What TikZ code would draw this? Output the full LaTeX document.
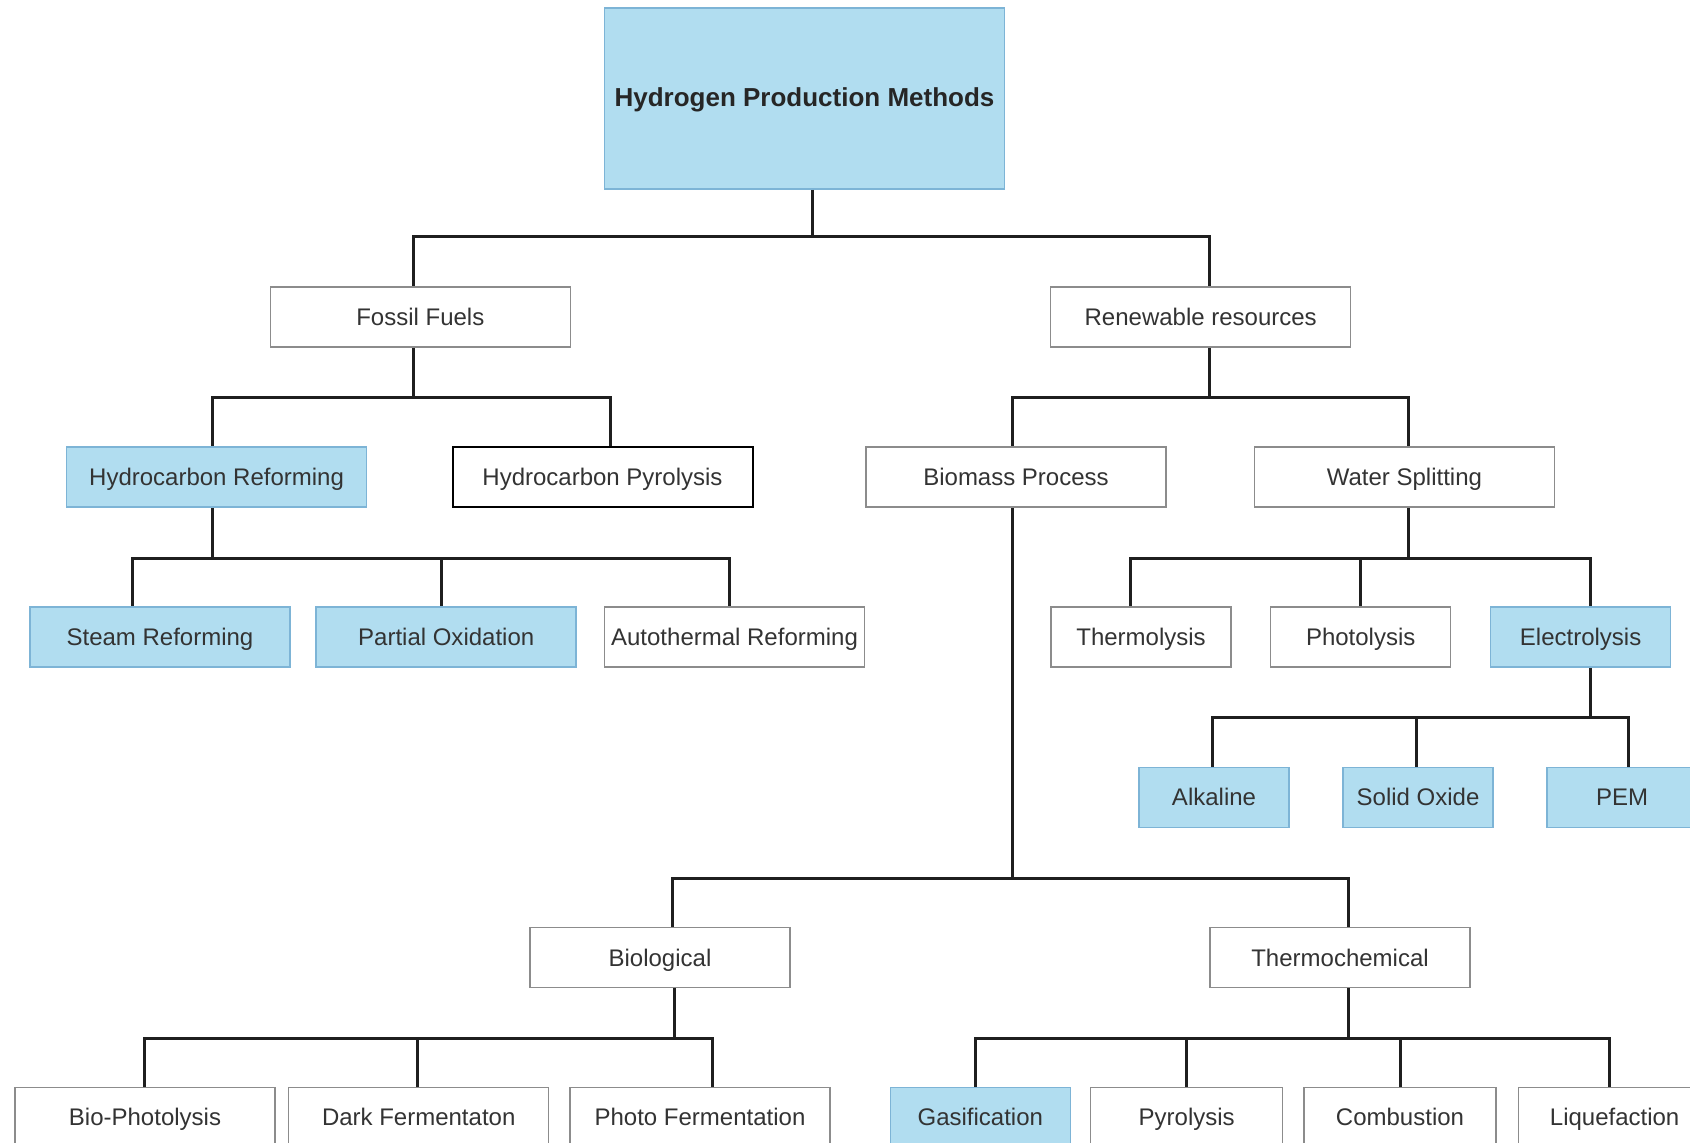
\documentclass[tikz,border=0pt]{standalone}
\usepackage{fontspec}
\setmainfont{Liberation Sans}
\usetikzlibrary{calc}
\definecolor{boxblue}{HTML}{B1DDF0}
\definecolor{blueedge}{HTML}{7DB4D6}
\definecolor{greyedge}{HTML}{8C8C8C}
\definecolor{txtgrey}{HTML}{333333}
\tikzset{
	box/.style={draw=greyedge, line width=0.75pt, fill=white, inner sep=0pt, text=txtgrey,
		font=\fontsize{12}{14}\selectfont, minimum height=30pt, text height=9.8pt, text depth=1.4pt},
	bluebox/.style={box, draw=blueedge, fill=boxblue},
	link/.style={line width=1.5pt, draw=black!88},
}

\begin{document}
\begin{tikzpicture}[x=0.5pt, y=-0.5pt]
		%%%%% START %%%%%
		\useasboundingbox (0, 0) rectangle (1690, 1142);
		\clip (0, 0) rectangle (1690, 1142);
		
		% top
		\node[bluebox, minimum width=200pt, minimum height=90.5pt, text=black!85,
			font=\fontsize{13}{15}\selectfont\bfseries] (root) at (804.5, 98.5) {Hydrogen Production Methods};
		
		\node[box, minimum width=150pt] (fossil) at (420.3, 317) {Fossil Fuels};
		\node[box, minimum width=150pt] (renew) at (1200.7, 317) {Renewable resources};
		
		\node[bluebox, minimum width=150pt] (hcref) at (216.6, 477) {Hydrocarbon Reforming};
		\node[box, draw=black, line width=1pt, minimum width=150pt] (hcpyr) at (602.5, 477) {Hydrocarbon Pyrolysis};
		\node[box, minimum width=150pt] (biomass) at (1016, 477) {Biomass Process};
		\node[box, minimum width=150pt] (water) at (1404.4, 477) {Water Splitting};
		
		\node[bluebox, minimum width=130pt] (steam) at (160, 637) {Steam Reforming};
		\node[bluebox, minimum width=130pt] (partox) at (446.2, 637) {Partial Oxidation};
		\node[box, minimum width=130pt] (autoth) at (734.5, 637) {Autothermal Reforming};
		\node[box, minimum width=90pt] (thermo) at (1141, 637) {Thermolysis};
		\node[box, minimum width=90pt] (photo) at (1360.7, 637) {Photolysis};
		\node[bluebox, minimum width=90pt] (electro) at (1580.6, 637) {Electrolysis};
		
		\node[bluebox, minimum width=75pt] (alkal) at (1214, 797.5) {Alkaline};
		\node[bluebox, minimum width=75pt] (solid) at (1418, 797.5) {Solid Oxide};
		\node[bluebox, minimum width=75pt] (pem) at (1622, 797.5) {PEM};
		
		\node[box, minimum width=130pt] (bio) at (660, 957.6) {Biological};
		\node[box, minimum width=130pt] (thchem) at (1340, 957.6) {Thermochemical};
		
		% bottom row
		\node[box, minimum width=130pt] (biophot) at (145, 1117.5) {Bio-Photolysis};
		\node[box, minimum width=130pt] (darkf) at (418.7, 1117.5) {Dark Fermentaton};
		\node[box, minimum width=130pt] (photof) at (700, 1117.5) {Photo Fermentation};
		\node[bluebox, minimum width=90pt] (gasif) at (980.3, 1117.5) {Gasification};
		\node[box, minimum width=96pt] (pyrol) at (1186.7, 1117.5) {Pyrolysis};
		\node[box, minimum width=96pt] (combust) at (1400, 1117.5) {Combustion};
		\node[box, minimum width=96pt] (liquef) at (1614.6, 1117.5) {Liquefaction};
		
		% links
		\draw[link] ($(root.south)+(8.2, 0)$) -- ++(0, 47) coordinate (j0);
		\foreach \c/\dx in {fossil/-7, renew/8.5}
			\draw[link] (j0) -| ($(\c.north)+(\dx, 0)$);
		
		\draw[link] ($(fossil.south)+(-7, 0)$) -- ++(0, 50) coordinate (j1);
		\foreach \c/\dx in {hcref/-4.5, hcpyr/7.5}
			\draw[link] (j1) -| ($(\c.north)+(\dx, 0)$);
		
		\draw[link] ($(renew.south)+(8.5, 0)$) -- ++(0, 50) coordinate (j2);
		\foreach \c/\dx in {biomass/-4, water/4}
			\draw[link] (j2) -| ($(\c.north)+(\dx, 0)$);
		
		\draw[link] ($(hcref.south)+(-4.5, 0)$) -- ++(0, 50.5) coordinate (j3);
		\foreach \c/\dx in {steam/-27.4, partox/-4.3, autoth/-5}
			\draw[link] (j3) -| ($(\c.north)+(\dx, 0)$);
		
		\draw[link] ($(water.south)+(4, 0)$) -- ++(0, 50.5) coordinate (j4);
		\foreach \c/\dx in {thermo/-10.4, photo/-0.5, electro/10}
			\draw[link] (j4) -| ($(\c.north)+(\dx, 0)$);
		
		\draw[link] ($(electro.south)+(10, 0)$) -- ++(0, 49.5) coordinate (j5);
		\foreach \c/\dx in {alkal/-1.5, solid/-2, pem/6.6}
			\draw[link] (j5) -| ($(\c.north)+(\dx, 0)$);
		
		\draw[link] ($(biomass.south)+(-4, 0)$) -- ++(0, 370.5) coordinate (j6);
		\foreach \c/\dx in {bio/12.5, thchem/8.3}
			\draw[link] (j6) -| ($(\c.north)+(\dx, 0)$);
		
		\draw[link] ($(bio.south)+(14.7, 0)$) -- ++(0, 50.5) coordinate (j7);
		\foreach \c/\dx in {biophot/-0.6, darkf/-1.6, photof/12.4}
			\draw[link] (j7) -| ($(\c.north)+(\dx, 0)$);
		
		\draw[link] ($(thchem.south)+(8.3, 0)$) -- ++(0, 50.5) coordinate (j8);
		\foreach \c/\dx in {gasif/-4.9, pyrol/0, combust/0, liquef/-5.4}
			\draw[link] (j8) -| ($(\c.north)+(\dx, 0)$);
		
		%%%%% END %%%%%
	\end{tikzpicture}
\end{document}
